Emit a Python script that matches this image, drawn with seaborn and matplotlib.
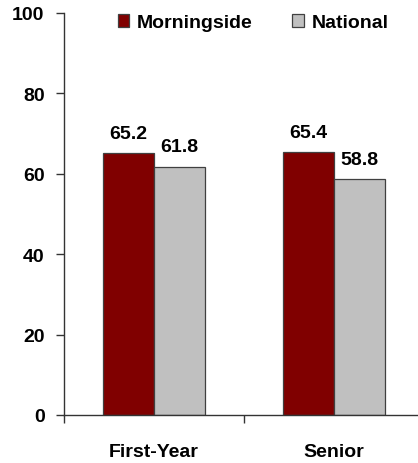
import pandas as pd
import matplotlib
matplotlib.use("Agg")
import matplotlib.pyplot as plt
import seaborn as sns

# --- data ---
categories = ["First-Year", "Senior"]
groups = ["Morningside", "National"]
morningside = [65.2, 65.4]
national = [61.8, 58.8]
colors = ["#800000", "#C0C0C0"]

df = pd.DataFrame({
    "category": categories * 2,
    "group": [groups[0]] * 2 + [groups[1]] * 2,
    "value": morningside + national,
})

sns.set_style("white")
plt.rcParams["font.family"] = ["Liberation Sans", "DejaVu Sans"]
plt.rcParams["font.weight"] = "bold"
plt.rcParams["text.color"] = "black"
plt.rcParams["xtick.color"] = "black"
plt.rcParams["ytick.color"] = "black"

fig = plt.figure(figsize=(4.18, 4.64), dpi=100)
ax = fig.add_axes([64 / 418, 48 / 464, 1 - 64 / 418, 402 / 464])

sns.barplot(data=df, x="category", y="value", hue="group", hue_order=groups,
            palette=colors, width=0.57, edgecolor="#404040", linewidth=0.9,
            saturation=1, ax=ax)

# value labels
for cont in ax.containers:
    ax.bar_label(cont, fmt="%.1f", padding=8, fontsize=14, fontweight="bold",
                 color="black")

ax.set_ylim(0, 100)
ax.set_xlim(-0.5, 1.467)
ax.set_yticks(range(0, 101, 20))
ax.set_xlabel("")
ax.set_ylabel("")

# ticks between categories, labels centred
ax.set_xticks([0, 1])
ax.set_xticklabels(categories, fontsize=14, fontweight="bold")
ax.set_xticks([-0.5, 0.5], minor=True)
ax.tick_params(axis="x", which="major", length=0, pad=20)
ax.tick_params(axis="x", which="minor", length=6, width=1, direction="out",
               color="#333333", bottom=True)
ax.tick_params(axis="y", length=6, width=1, direction="out", color="#333333",
               labelsize=14, pad=8, left=True)
for lab in ax.get_yticklabels():
    lab.set_fontweight("bold")

for s in ["top", "right"]:
    ax.spines[s].set_visible(False)
for s in ["left", "bottom"]:
    ax.spines[s].set_color("#333333")
    ax.spines[s].set_linewidth(1)

leg = ax.legend(ncol=2, frameon=False, loc="upper center",
                bbox_to_anchor=(0.534, 1.04),
                handlelength=0.6, handleheight=0.6, handletextpad=0.4,
                columnspacing=2.0, prop={"weight": "bold", "size": 14})

fig.savefig("out.png", dpi=100)
